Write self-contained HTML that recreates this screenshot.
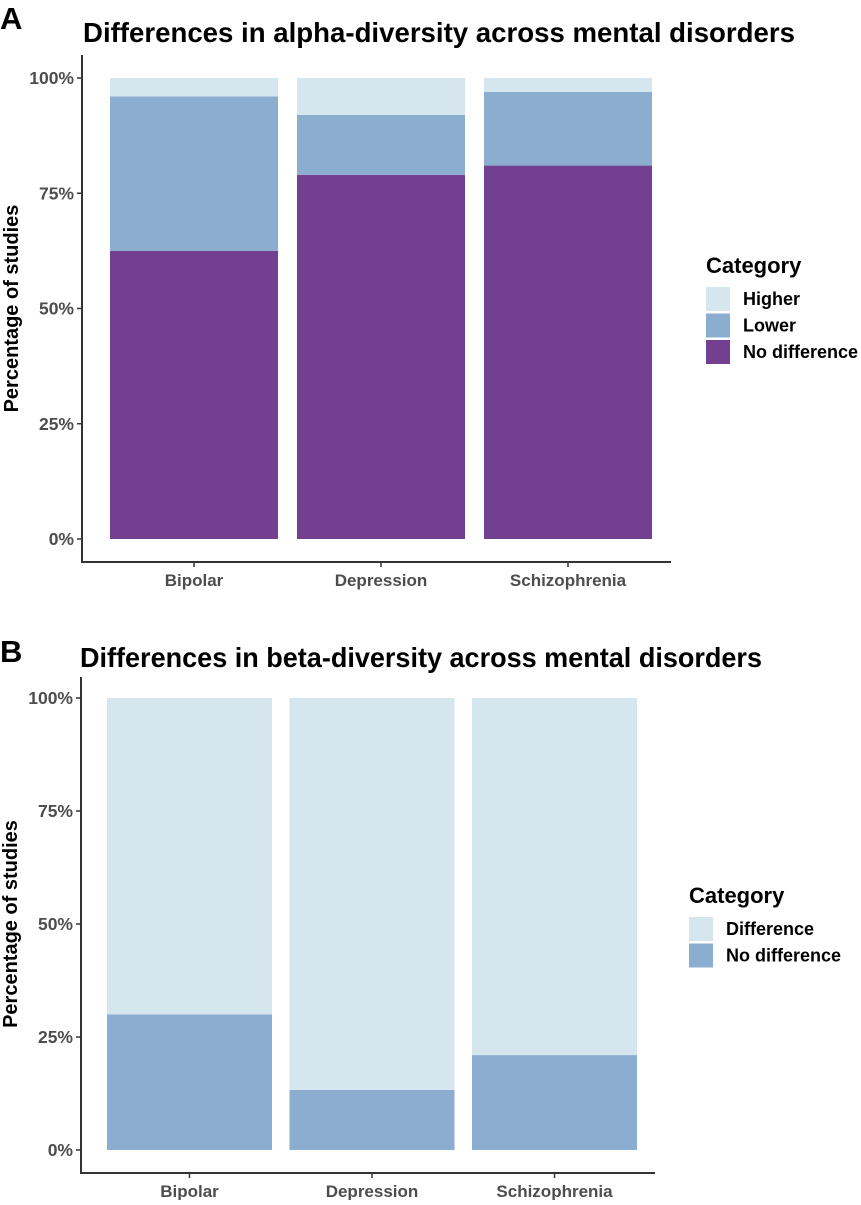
<!DOCTYPE html>
<html><head><meta charset="utf-8"><style>
body{margin:0;background:#fff;width:861px;height:1200px;overflow:hidden}
text{font-family:"Liberation Sans",Arial,sans-serif;font-weight:bold}
</style></head><body>
<svg id="s" width="861" height="1200" xmlns="http://www.w3.org/2000/svg">
<text x="0" y="29" font-size="31" fill="#000">A</text>
<text x="83" y="42" font-size="27.5" fill="#000" textLength="712" lengthAdjust="spacingAndGlyphs">Differences in alpha-diversity across mental disorders</text>
<text x="0" y="662" font-size="31" fill="#000">B</text>
<text x="80" y="667" font-size="27.5" fill="#000" textLength="682" lengthAdjust="spacingAndGlyphs">Differences in beta-diversity across mental disorders</text>
<g id="ga"></g>
<g id="gb"></g>
</svg>
<script>
const categories = ["Bipolar", "Depression", "Schizophrenia"];
const alphaNoDiff = [62.5, 79, 81];
const alphaLower = [33.5, 13, 16];
const alphaHigher = [4, 8, 3];
const betaNoDiff = [30, 13.3, 21];
const betaDiff = [70, 86.7, 79];
const yTicks = [0, 25, 50, 75, 100];
const tickLabels = ["0%", "25%", "50%", "75%", "100%"];
const NS = "http://www.w3.org/2000/svg";
function mk(tag, attrs, parent, txt){const e=document.createElementNS(NS,tag);for(const k in attrs)e.setAttribute(k,attrs[k]);if(txt!=null)e.textContent=txt;parent.appendChild(e);return e;}
function panel(g, cfg){
  const y = v => cfg.y0 - v/100*(cfg.y0-cfg.y100);
  const x = i => cfg.xStart + i*cfg.step;
  let a=mk('line',{x1:cfg.ax,y1:cfg.top,x2:cfg.ax,y2:cfg.axY,stroke:'#333','stroke-width':2},g);
  
  
  a=mk('line',{x1:cfg.ax-1,y1:cfg.axY,x2:cfg.right,y2:cfg.axY,stroke:'#333','stroke-width':2},g);
  
  
  yTicks.forEach((t,i)=>{
    const tk=mk('line',{x1:cfg.ax-5,y1:y(t),x2:cfg.ax,y2:y(t),stroke:'#333','stroke-width':1.5},g);
    
    
    const tl=mk('text',{x:cfg.ax-8,y:y(t)+6,'font-size':17.5,fill:'#4d4d4d','text-anchor':'end'},g,tickLabels[i]);
    
    
  });
  const yt=mk('text',{x:0,y:0,'font-size':20,fill:'#000','text-anchor':'middle',transform:`translate(${cfg.ax-64},${(cfg.y0+cfg.y100)/2}) rotate(-90)`},g,'Percentage of studies');
  
  
  categories.forEach((c,i)=>{
    let base=0;
    cfg.series.forEach(s=>{
      const v=s.vals[i];
      const r=mk('rect',{x:x(i),y:y(base+v),width:cfg.bw,height:y(base)-y(base+v),fill:s.color},g);
      
      
      base+=v;
    });
    const cx=x(i)+cfg.bw/2;
    const tk=mk('line',{x1:cx,y1:cfg.axY,x2:cx,y2:cfg.axY+5,stroke:'#333','stroke-width':1.5},g);
    
    
    const tl=mk('text',{x:cx,y:cfg.axY+24,'font-size':17,fill:'#4d4d4d','text-anchor':'middle'},g,c);
    
    
  });
  const lt=mk('text',{x:cfg.lx,y:cfg.ly,'font-size':22,fill:'#000'},g,'Category');
  
  
  cfg.legend.forEach((l,i)=>{
    const yy=cfg.ly+14+i*26.5;
    const r=mk('rect',{x:cfg.lx,y:yy,width:24,height:24,fill:l[1]},g);
    
    
    const t=mk('text',{x:cfg.lx+37,y:yy+18,'font-size':18,fill:'#000'},g,l[0]);
    
    
  });
}
const LIGHT='#d6e6ee', MID='#8badd0', PURPLE='#723f91';
panel(document.getElementById('ga'),{y0:539,y100:78,xStart:110,step:187,bw:168,ax:82,top:55,axY:562,right:671,
  series:[{name:'no-difference',vals:alphaNoDiff,color:PURPLE},{name:'lower',vals:alphaLower,color:MID},{name:'higher',vals:alphaHigher,color:LIGHT}],
  lx:706,ly:273,legend:[['Higher',LIGHT],['Lower',MID],['No difference',PURPLE]]});
panel(document.getElementById('gb'),{y0:1150,y100:698,xStart:107,step:182.5,bw:165,ax:81,top:677,axY:1173,right:655,
  series:[{name:'no-difference',vals:betaNoDiff,color:MID},{name:'difference',vals:betaDiff,color:LIGHT}],
  lx:689,ly:903,legend:[['Difference',LIGHT],['No difference',MID]]});
</script>
</body></html>
